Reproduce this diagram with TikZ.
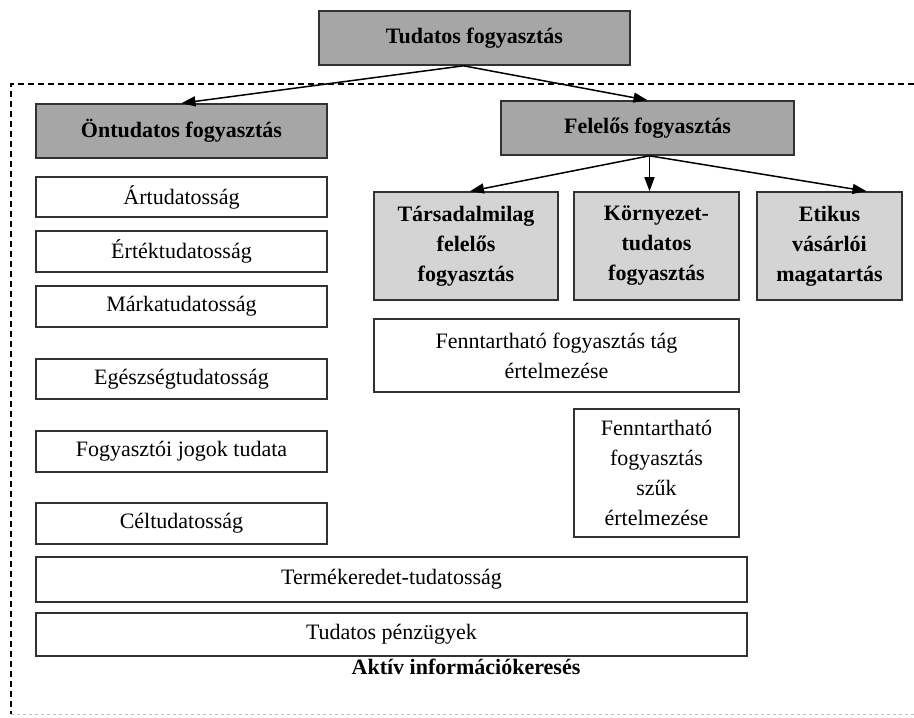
\documentclass[tikz,border=0pt]{standalone}
\usepackage{fontspec}
\setmainfont{Liberation Serif}
\usetikzlibrary{arrows.meta,calc}
\definecolor{darkbox}{RGB}{166,166,166}
\definecolor{lightbox}{RGB}{212,212,212}
\definecolor{edge}{RGB}{50,50,50}
\tikzset{
  box/.style={draw=edge, line width=1.6pt, inner sep=0pt, align=center,
    font=\fontsize{22}{30}\selectfont},
  darkhead/.style={box, fill=darkbox, font=\fontsize{22}{30}\selectfont\bfseries},
  lighthead/.style={box, fill=lightbox, font=\fontsize{22}{30}\selectfont\bfseries},
  plain/.style={box, fill=white},
  arr/.style={line width=1.5pt, draw=black, -{Triangle[length=14pt,width=10pt]}},
}
\begin{document}
\begin{tikzpicture}[x=1pt,y=-1pt]
\useasboundingbox (0,0) rectangle (914,718);
\fill[white] (0,0) rectangle (914,718);
% dashed frame
\draw[dash pattern=on 6pt off 4pt, line width=1.5pt, black] (914,84) -- (11,84) -- (11,714);
\draw[dash pattern=on 3pt off 3pt, line width=1pt, black!25] (11,714) -- (914,714);

\node[darkhead, minimum width=311, minimum height=54] (top) at (474.5,38) {Tudatos fogyasztás};
\node[darkhead, minimum width=291, minimum height=54] (ont) at (181.5,131) {Öntudatos fogyasztás};
\node[darkhead, minimum width=293, minimum height=54] (fel) at (647.5,128) {Felelős fogyasztás};

\node[lighthead, minimum width=184, minimum height=108] (tars) at (466,246) {Társadalmilag\\felelős\\fogyasztás};
\node[lighthead, minimum width=165, minimum height=108] (korny) at (656.5,246) {Környezet-\\tudatos\\fogyasztás};
\node[lighthead, minimum width=145, minimum height=108] (etik) at (829.5,246) {Etikus\\vásárlói\\magatartás};

\node[plain, minimum width=365, minimum height=73] (tag) at (556.5,355.5) {Fenntartható fogyasztás tág\\értelmezése};
\node[plain, minimum width=165, minimum height=128] (szuk) at (656.5,473) {Fenntartható\\fogyasztás\\szűk\\értelmezése};

\node[plain, minimum width=291, minimum height=40] (ar) at (181.5,197) {Ártudatosság};
\node[plain, minimum width=291, minimum height=41] (ert) at (181.5,251.5) {Értéktudatosság};
\node[plain, minimum width=291, minimum height=41] (mark) at (181.5,306.5) {Márkatudatosság};
\node[plain, minimum width=291, minimum height=40] (egesz) at (181.5,379) {Egészségtudatosság};
\node[plain, minimum width=291, minimum height=41] (fogy) at (181.5,451.5) {Fogyasztói jogok tudata};
\node[plain, minimum width=291, minimum height=41] (cel) at (181.5,523.5) {Céltudatosság};
\node[plain, minimum width=711, minimum height=45] (term) at (391.5,579.5) {Termékeredet-tudatosság};
\node[plain, minimum width=711, minimum height=43] (penz) at (391.5,634.5) {Tudatos pénzügyek};

\node[font=\fontsize{22}{26}\selectfont\bfseries, inner sep=0pt] (aktiv) at (466,667) {Aktív információkeresés};

% arrows
\coordinate (tops) at ($(top.south)+(-11,0)$);
\draw[arr] (tops) -- (ont.north);
\draw[arr] (tops) -- (fel.north);
\coordinate (fels) at ($(fel.south)+(2,0)$);
\draw[arr] (fels) -- ($(tars.north)+(4,0)$);
\draw[arr] (fels) -- (fels |- korny.north);
\draw[arr] (fels) -- ($(etik.north)+(37,0)$);
\end{tikzpicture}
\end{document}
